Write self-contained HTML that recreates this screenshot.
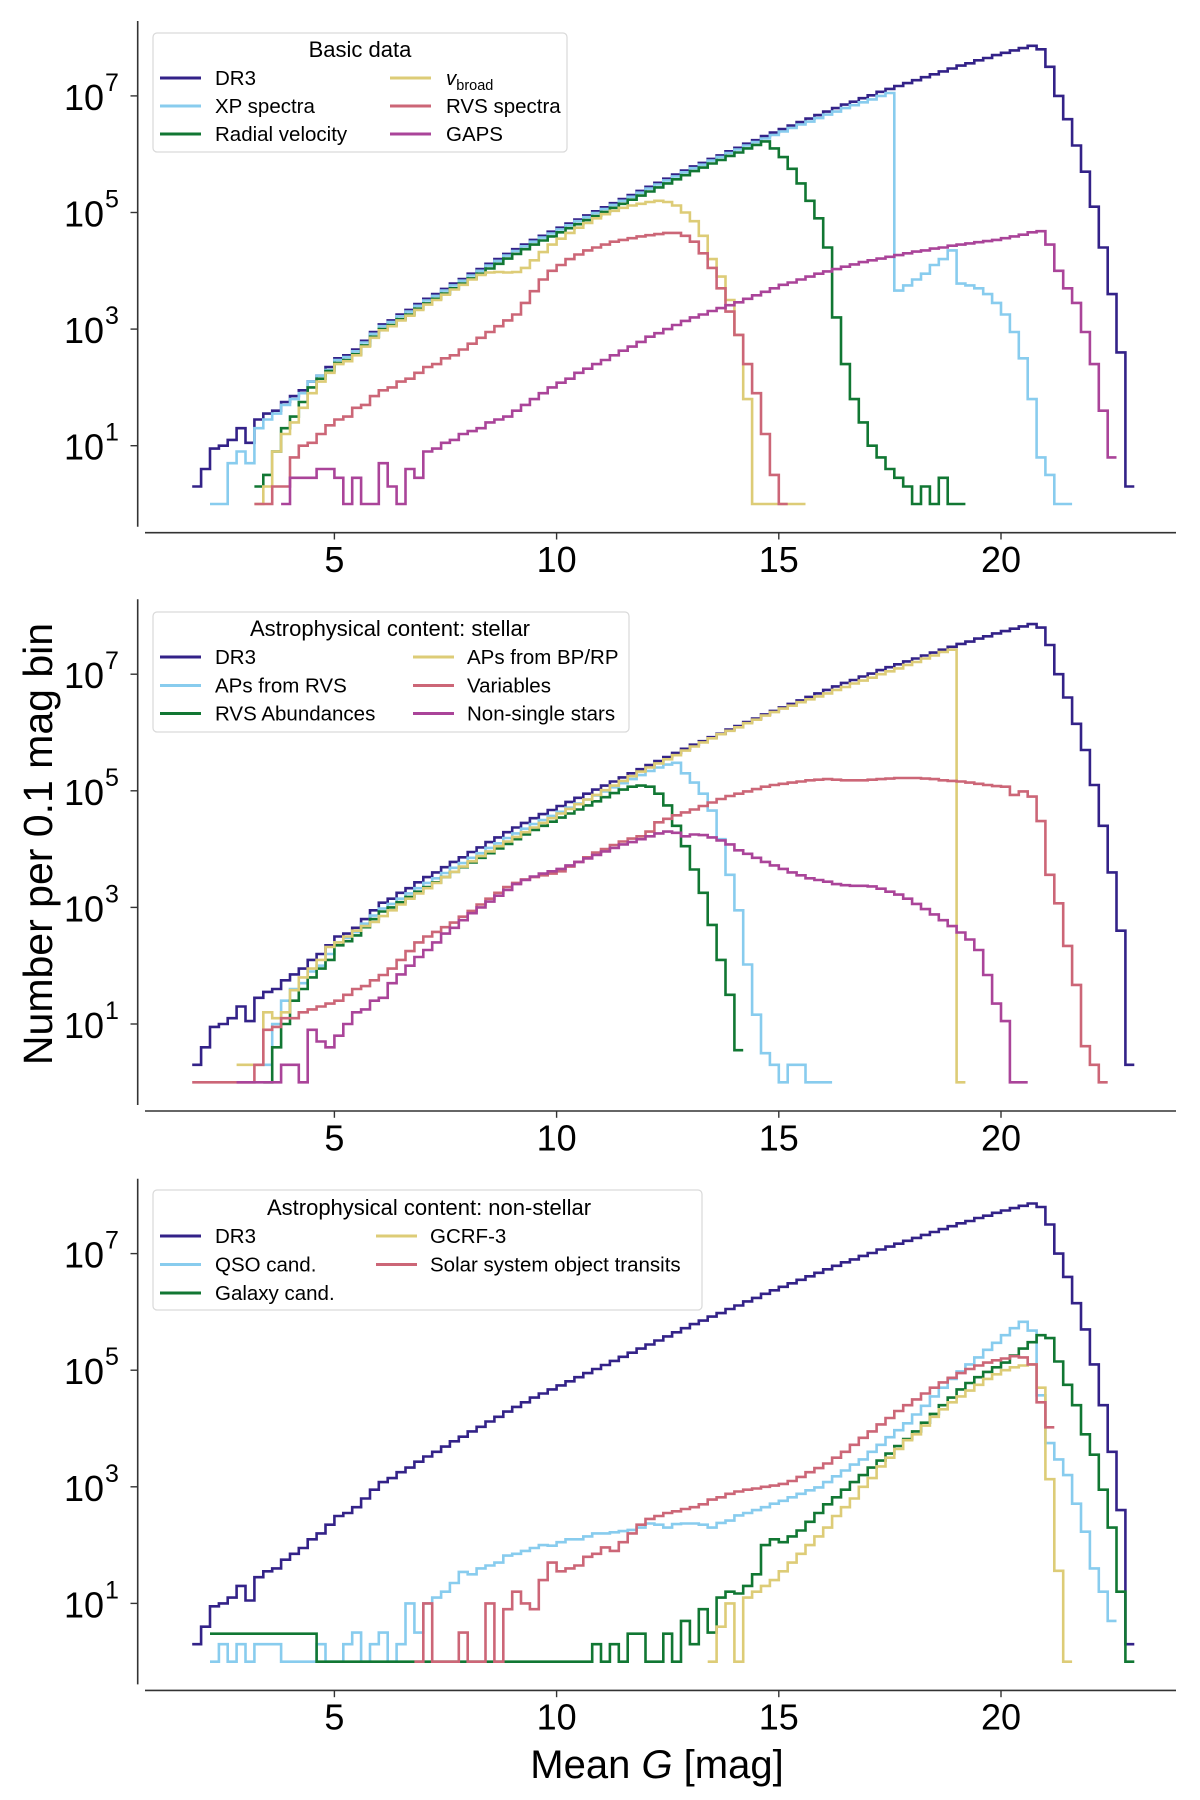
<!DOCTYPE html>
<html><head><meta charset="utf-8">
<style>
html,body{margin:0;padding:0;background:#fff;}
svg{display:block;font-family:"Liberation Sans",sans-serif;}
</style></head>
<body>
<svg id="fig" width="1200" height="1800" viewBox="0 0 1200 1800" xmlns="http://www.w3.org/2000/svg"></svg>
<script>
// ---- data (log10 of counts per 0.1 mag bin, bins of 0.2 mag from given start) ----
const xTicks = [5, 10, 15, 20];
const yTickExps = [1, 3, 5, 7];
const binStep = 0.2;

const dr3Start = 1.8;
const dr3 = [.3,.6,.95,1.0,1.1,1.3,1.05,1.45,1.55,1.6,1.75,1.85,1.95,2.1,2.2,2.35,
2.5,2.55,2.65,2.8,2.95,3.08,3.15,3.25,3.33,3.43,
3.52,3.6,3.69,3.78,3.86,3.95,4.03,4.12,4.2,4.29,
4.37,4.45,4.53,4.6,4.67,4.74,4.81,4.88,4.95,5.02,
5.09,5.16,5.23,5.3,5.37,5.44,5.51,5.58,5.65,5.72,
5.79,5.85,5.92,5.98,6.05,6.11,6.18,6.24,6.31,6.37,
6.43,6.49,6.55,6.61,6.67,6.73,6.79,6.85,6.9,6.96,
7.01,7.07,7.12,7.17,7.22,7.27,7.32,7.37,7.42,7.47,
7.52,7.56,7.61,7.65,7.7,7.74,7.78,7.82,7.86,7.8,
7.5,7.0,6.6,6.15,5.7,5.1,4.4,3.6,2.6,0.3];

// Panel 1: Basic data
const xpStart = 2.2;
const xpSpectra = [0,0,.7,.9,.7,1.3,1.45,1.55,1.7,1.8,1.9,2.1,2.2,2.3,
2.47,2.52,2.62,2.77,2.92,3.05,3.12,3.22,3.3,3.4,3.49,3.57,3.66,3.75,3.83,3.92,4.0,4.09,4.17,4.26,
4.34,4.42,4.5,4.57,4.64,4.71,4.78,4.85,4.92,4.99,5.06,5.13,5.2,5.27,5.34,5.41,5.48,5.55,5.62,5.69,
5.76,5.82,5.89,5.95,6.02,6.08,6.15,6.21,6.27,6.33,6.39,6.45,6.51,6.56,6.62,6.68,6.73,6.79,6.84,6.89,
6.94,7.0,7.05,3.66,3.75,3.85,3.95,4.1,4.2,4.35,3.78,3.75,3.7,3.6,3.45,3.25,2.95,2.5,1.8,.8,.5,0,0];

const rvStart = 3.2;
const radialVelocity = [.3,.5,.9,1.3,1.5,1.75,2.0,2.15,2.28,
2.42,2.47,2.57,2.72,2.87,3.0,3.07,3.17,3.25,3.35,3.44,3.52,3.61,3.7,3.78,3.87,3.95,4.04,4.12,4.21,
4.29,4.37,4.45,4.52,4.59,4.66,4.73,4.8,4.87,4.94,5.01,5.08,5.15,5.22,5.29,5.36,5.43,5.5,5.57,5.64,
5.71,5.77,5.84,5.9,5.97,6.03,6.1,6.16,6.22,6.1,5.95,5.75,5.5,5.2,4.9,4.4,3.2,2.4,1.8,1.4,1.0,.8,.6,.45,.3,0,.3,0,.45,0,0];

const vbStart = 3.2;
const vBroad = [0,.3,.9,1.2,1.4,1.65,1.9,2.1,2.25,
2.4,2.45,2.55,2.7,2.85,2.98,3.05,3.15,3.23,3.33,3.42,3.5,3.59,3.68,3.76,3.85,
3.93,3.97,3.98,3.97,3.98,4.05,4.18,4.32,4.45,4.55,4.65,4.74,4.82,4.9,4.97,5.03,5.08,5.12,5.15,5.18,5.2,5.18,5.12,5.0,4.85,4.6,4.2,3.9,3.5,2.9,1.8,0,0,0,0,0,0];

const rvsStart = 3.2;
const rvsSpectra = [0,0,.3,.3,.8,1.0,1.05,1.2,1.35,1.45,1.5,1.65,1.7,1.85,1.95,2.0,2.1,2.15,2.25,2.35,2.4,2.5,2.55,2.65,2.75,2.85,2.95,3.05,3.15,3.25,3.45,3.65,3.85,4.0,4.1,4.2,4.28,4.35,4.4,4.45,4.5,4.53,4.56,4.59,4.61,4.63,4.65,4.65,4.6,4.5,4.3,4.05,3.7,3.3,2.9,2.4,1.9,1.2,.5,0];

const gapsStart = 3.8;
const gaps = [0,.45,.45,.45,.6,.6,.45,0,.45,0,0,.7,.3,0,.6,.45,
.9,.95,1.05,1.1,1.2,1.25,1.3,1.4,1.45,1.5,1.6,1.7,1.8,1.9,2.0,2.08,2.15,2.25,2.32,2.4,
2.47,2.55,2.63,2.7,2.78,2.87,2.93,3.0,3.07,3.14,3.2,3.25,3.31,3.36,3.41,3.46,3.52,3.58,3.64,3.7,
3.76,3.8,3.85,3.9,3.95,3.99,4.03,4.07,4.11,4.15,4.18,4.21,4.24,4.27,4.3,4.33,4.35,4.38,4.4,4.43,
4.45,4.47,4.49,4.51,4.53,4.56,4.59,4.62,4.66,4.68,4.45,4.0,3.7,3.45,2.95,2.4,1.6,.8];

// Panel 2: stellar
const apRvsStart = 3.4;
const apsFromRvs = [.3,1.0,1.4,1.6,1.7,1.9,2.0,2.2,
2.4,2.48,2.58,2.72,2.86,2.98,3.06,3.15,3.24,3.33,3.42,3.5,3.59,3.68,3.76,3.85,3.93,4.02,4.1,4.19,
4.27,4.35,4.43,4.5,4.57,4.64,4.71,4.78,4.85,4.92,4.99,5.06,5.13,5.2,5.27,5.34,5.4,5.45,5.48,5.3,
5.14,4.95,4.66,4.17,3.56,2.95,2.02,1.16,.5,.3,0,.3,.3,0,0,0];

const abunStart = 3.4;
const rvsAbundances = [0,.6,1.0,1.4,1.6,1.8,1.95,2.1,
2.35,2.42,2.52,2.66,2.8,2.93,3.0,3.09,3.18,3.27,3.35,3.43,3.52,3.61,3.69,3.77,3.85,3.93,4.01,4.09,
4.17,4.25,4.33,4.4,4.47,4.54,4.61,4.68,4.75,4.82,4.89,4.96,5.02,5.07,5.09,5.07,4.95,4.75,4.4,4.05,
3.65,3.25,2.7,2.1,1.5,.55];

const apBpStart = 2.8;
const apsFromBpRp = [.3,.3,.3,1.2,1.1,1.2,1.58,1.8,1.95,2.1,
2.32,2.4,2.5,2.6,2.68,2.75,2.85,2.95,3.05,3.15,3.24,3.33,3.42,3.52,3.61,3.7,3.79,3.88,3.96,4.05,
4.13,4.21,4.29,4.37,4.45,4.53,4.61,4.69,4.77,4.85,4.93,5.01,5.09,5.17,5.25,5.33,5.4,5.47,5.54,5.61,
5.69,5.76,5.83,5.9,5.97,6.03,6.09,6.16,6.22,6.29,6.35,6.41,6.46,6.52,6.57,6.62,6.67,6.73,6.78,6.84,
6.89,6.94,7.0,7.05,7.1,7.16,7.21,7.27,7.32,7.38,7.42,0];

const varStart = 1.8;
const variables = [0,0,0,0,0,0,0,0.3,.9,.95,1.1,1.1,1.2,1.25,1.3,1.35,
1.4,1.5,1.6,1.65,1.75,1.84,1.95,2.1,2.25,2.4,2.5,2.58,2.66,2.74,2.84,2.94,3.05,3.15,3.25,3.35,
3.42,3.48,3.52,3.55,3.58,3.62,3.7,3.78,3.86,3.94,4.0,4.07,4.13,4.18,4.22,4.3,4.46,4.52,4.58,4.63,
4.68,4.74,4.8,4.86,4.91,4.95,4.99,5.03,5.07,5.1,5.12,5.14,5.16,5.18,5.19,5.2,5.19,5.18,5.18,5.18,
5.19,5.2,5.21,5.22,5.22,5.22,5.21,5.2,5.18,5.17,5.16,5.14,5.12,5.1,5.08,5.07,4.93,4.99,4.9,4.48,
3.56,3.07,2.34,1.67,.62,.3,0];

const nssStart = 2.8;
const nonSingleStars = [0,0,0,0,0,.3,.3,0,.9,.7,.6,
.8,1.0,1.2,1.25,1.4,1.45,1.7,1.85,2.0,2.15,2.27,2.4,2.55,2.65,2.78,2.9,3.0,3.1,3.2,3.3,
3.4,3.47,3.53,3.58,3.62,3.66,3.72,3.78,3.84,3.9,3.96,4.02,4.08,4.12,4.17,4.22,4.27,4.3,4.28,4.22,
4.25,4.24,4.2,4.15,4.08,3.98,3.92,3.85,3.78,3.72,3.66,3.6,3.55,3.5,3.47,3.44,3.4,3.38,3.37,3.37,
3.36,3.32,3.27,3.22,3.15,3.06,2.97,2.88,2.78,2.68,2.57,2.45,2.27,1.84,1.35,1.05,0,0];

// Panel 3: non-stellar
const qsoStart = 2.2;
const qsoCand = [0,.3,0,.3,0,.3,.3,.3,0,0,0,0,.3,0,0,.3,.5,0,.3,.5,0,.3,1.0,.5,
1.0,1.1,1.2,1.35,1.54,1.5,1.6,1.65,1.7,1.82,1.85,1.9,1.95,2.0,1.99,2.05,2.1,2.1,2.15,2.2,
2.2,2.22,2.24,2.26,2.3,2.37,2.35,2.3,2.36,2.37,2.37,2.35,2.3,2.38,2.42,2.51,2.55,2.6,2.65,2.71,
2.76,2.82,2.88,2.94,2.99,3.08,3.18,3.28,3.38,3.47,3.6,3.72,3.85,3.97,4.09,4.24,4.39,4.55,4.7,4.85,
4.98,5.1,5.22,5.35,5.47,5.6,5.72,5.83,5.68,4.57,3.75,3.47,3.2,2.71,2.23,1.6,1.2,.7];

const galStart = 2.2;
const galaxyCand = [.48,.48,.48,.48,.48,.48,.48,.48,.48,.48,.48,.48,0,0,0,0,0,0,0,0,0,0,0,0,0,0,0,0,0,0,0,0,0,0,0,0,0,0,0,0,0,0,0,
.3,0,.3,0,.48,.48,0,0,.48,0,.7,.3,.9,.5,1.1,1.2,1.17,1.3,1.5,2.0,2.1,
2.05,2.15,2.25,2.4,2.55,2.7,2.82,2.95,3.08,3.2,3.33,3.45,3.57,3.7,3.82,3.95,4.1,4.25,4.4,4.53,
4.67,4.78,4.88,4.97,5.05,5.13,5.25,5.37,5.48,5.6,5.55,5.15,4.75,4.4,3.9,3.55,2.95,2.3,1.2,0];

const gcrfStart = 13.4;
const gcrf3 = [0,.6,1.0,0,1.1,1.2,1.3,1.4,1.55,1.7,1.85,2.0,2.15,2.3,2.5,2.65,2.8,3.0,3.15,3.35,3.5,3.65,3.8,3.9,4.05,4.2,4.33,4.45,4.55,4.65,4.75,4.85,4.93,5.0,5.05,5.08,5.1,4.7,3.13,1.56,0];

const ssoStart = 6.8;
const ssoTransits = [0,1.0,0,0,0,.5,0,0,1.0,0,.9,1.2,1.0,.9,1.4,1.7,1.55,1.6,1.65,1.8,1.85,1.96,1.9,2.05,2.2,2.35,2.45,2.5,2.55,2.58,2.62,2.65,2.7,2.78,2.82,2.88,2.92,2.95,2.97,3.0,3.02,3.05,3.1,3.17,3.25,3.32,3.4,3.5,3.6,3.72,3.84,3.95,4.07,4.18,4.3,4.4,4.5,4.6,4.7,4.79,4.87,4.95,5.02,5.08,5.13,5.17,5.2,5.24,5.22,5.1,4.45,4.02];

// ---- layout ----
const panelOffsets = [0, 578.3, 1157.7];
const C = {dr3:'#332288', blue:'#88CCEE', green:'#117733', yellow:'#DDCC77', red:'#CC6677', purple:'#AA4499'};
const NS = 'http://www.w3.org/2000/svg';
const svg = document.getElementById('fig');
function xs(m){ return 112.2 + 44.44*m; }
function ys(L, off){ return 504 - 58.3*L + off; }
function mk(tag, attrs, parent){
  const e = document.createElementNS(NS, tag);
  for (const k in attrs) e.setAttribute(k, attrs[k]);
  (parent||svg).appendChild(e);
  return e;
}

const panels = [
  {title:'Basic data', box:[153,33,414,119], titleX:360, rows:[78,106,134], c2h:390, c2t:446,
   series:[
     ['DR3', dr3, dr3Start, C.dr3, 'series-dr3'],
     ['XP spectra', xpSpectra, xpStart, C.blue, 'series-xp-spectra'],
     ['Radial velocity', radialVelocity, rvStart, C.green, 'series-radial-velocity'],
     ['vbroad', vBroad, vbStart, C.yellow, 'series-vbroad'],
     ['RVS spectra', rvsSpectra, rvsStart, C.red, 'series-rvs-spectra'],
     ['GAPS', gaps, gapsStart, C.purple, 'series-gaps']]},
  {title:'Astrophysical content: stellar', box:[153,612,476,120], titleX:390, rows:[657,685.5,713.5], c2h:413, c2t:467,
   series:[
     ['DR3', dr3, dr3Start, C.dr3, 'series-dr3'],
     ['APs from RVS', apsFromRvs, apRvsStart, C.blue, 'series-aps-from-rvs'],
     ['RVS Abundances', rvsAbundances, abunStart, C.green, 'series-rvs-abundances'],
     ['APs from BP/RP', apsFromBpRp, apBpStart, C.yellow, 'series-aps-from-bprp'],
     ['Variables', variables, varStart, C.red, 'series-variables'],
     ['Non-single stars', nonSingleStars, nssStart, C.purple, 'series-non-single-stars']]},
  {title:'Astrophysical content: non-stellar', box:[153,1190,549,120], titleX:429, rows:[1236,1264.5,1293], c2h:376, c2t:430,
   series:[
     ['DR3', dr3, dr3Start, C.dr3, 'series-dr3'],
     ['QSO cand.', qsoCand, qsoStart, C.blue, 'series-qso-cand'],
     ['Galaxy cand.', galaxyCand, galStart, C.green, 'series-galaxy-cand'],
     ['GCRF-3', gcrf3, gcrfStart, C.yellow, 'series-gcrf3'],
     ['Solar system object transits', ssoTransits, ssoStart, C.red, 'series-sso-transits']]}
];

panels.forEach((p, pi) => {
  const off = panelOffsets[pi];
  const g = mk('g', {});
  
  
  const ya = mk('line', {x1:137.7, y1:21+off, x2:137.7, y2:526.7+off, stroke:'#333', 'stroke-width':1.6}, g);
  
  
  const xa = mk('line', {x1:145, y1:532.7+off, x2:1176, y2:532.7+off, stroke:'#333', 'stroke-width':1.6}, g);
  
  
  xTicks.forEach(t => {
    const x = xs(t);
    mk('line', {x1:x, y1:532.7+off, x2:x, y2:539.5+off, stroke:'#333', 'stroke-width':1.4}, g);
    const tl = mk('text', {x:x, y:572+off, 'font-size':36, 'text-anchor':'middle', fill:'#000'}, g);
    tl.textContent = String(t);
    
    
  });
  yTickExps.forEach(e => {
    const y = ys(e, off);
    mk('line', {x1:130.5, y1:y, x2:137.7, y2:y, stroke:'#333', 'stroke-width':1.4}, g);
    const tl = mk('text', {x:104, y:y+14, 'font-size':36, 'text-anchor':'end', fill:'#000'}, g);
    tl.textContent = '10';
    
    
    const sp = mk('text', {x:105, y:y-5, 'font-size':25, fill:'#000'}, g);
    sp.textContent = String(e);
    
    
  });
  p.series.forEach(s => {
    const vals = s[1], start = s[2];
    let d = '';
    for (let i = 0; i < vals.length; i++) {
      const v = vals[i];
      if (v === null) continue;
      const x0 = xs(start + i*binStep), x1 = xs(start + (i+1)*binStep), y = ys(v, off);
      if (i === 0 || vals[i-1] === null) d += 'M' + x0.toFixed(1) + ' ' + y.toFixed(1);
      else d += 'V' + y.toFixed(1);
      d += 'H' + x1.toFixed(1);
    }
    const path = mk('path', {d:d, fill:'none', stroke:s[3], 'stroke-width':2.6, 'stroke-linejoin':'miter'}, g);
    
    
  });
  const b = p.box;
  const lg = mk('g', {}, g);
  
  
  mk('rect', {x:b[0], y:b[1], width:b[2], height:b[3], rx:4, fill:'#fff', 'fill-opacity':0.85, stroke:'#d9d9d9', 'stroke-width':1.2}, lg);
  const tt = mk('text', {x:p.titleX, y:p.rows[0]-21, 'font-size':22, 'text-anchor':'middle', fill:'#000'}, lg);
  tt.textContent = p.title;
  
  
  p.series.forEach((s, i) => {
    const col = i < 3 ? 0 : 1, row = i % 3;
    const hx = col === 0 ? 160 : p.c2h, tx = col === 0 ? 215 : p.c2t;
    const y = p.rows[row];
    const entry = mk('g', {}, lg);
    
    
    mk('line', {x1:hx, y1:y, x2:hx+41, y2:y, stroke:s[3], 'stroke-width':3}, entry);
    const t = mk('text', {x:tx, y:y+7, 'font-size':20.5, fill:'#000'}, entry);
    if (s[0] === 'vbroad') {
      t.innerHTML = '<tspan font-style="italic">v</tspan><tspan font-size="14.5" dy="5">broad</tspan>';
    } else {
      t.textContent = s[0];
    }
  });
});

const yl = mk('text', {x:0, y:0, 'font-size':41, 'text-anchor':'middle', fill:'#000', transform:'translate(52,844) rotate(-90)'});
yl.textContent = 'Number per 0.1 mag bin';


const xl = mk('text', {x:657, y:1778, 'font-size':40, 'text-anchor':'middle', fill:'#000'});
xl.innerHTML = 'Mean <tspan font-style="italic">G</tspan> [mag]';


</script>
</body></html>
